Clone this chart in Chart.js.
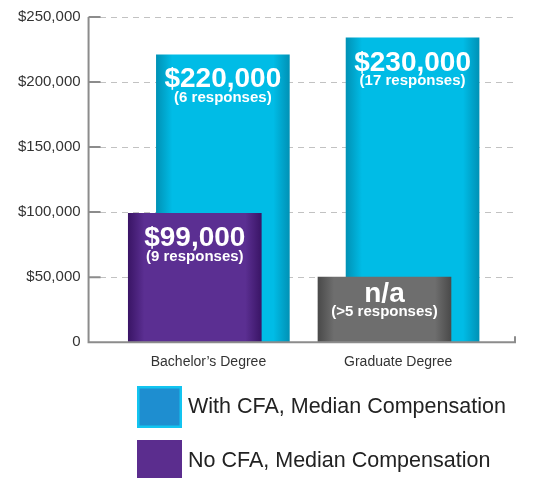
<!DOCTYPE html>
<html>
<head>
<meta charset="utf-8">
<script src="https://cdn.jsdelivr.net/npm/chart.js@4.4.0/dist/chart.umd.min.js"></script>
<style>
  html, body { margin: 0; padding: 0; background: #fff; }
  #wrap { width: 554px; height: 478px; }
</style>
</head>
<body>
<div id="wrap"><canvas id="compChart" width="554" height="478"></canvas></div>
<script>
// data
const categories = ['Bachelor’s Degree', 'Graduate Degree'];
const withCfa = [221000, 234000];
const noCfa = [99000, 50000];
const withCfaValueText = ['$220,000', '$230,000'];
const withCfaNotes = ['(6 responses)', '(17 responses)'];
const noCfaValueText = ['$99,000', 'n/a'];
const noCfaNotes = ['(9 responses)', '(>5 responses)'];
const yTickLabels = ['0', '$50,000', '$100,000', '$150,000', '$200,000', '$250,000'];
const seriesNames = ['With CFA, Median Compensation', 'No CFA, Median Compensation'];

const FONT = '"Liberation Sans", Arial, sans-serif';
const BAR_W = 133;

// dark edge / main colour per bar
const cyanShade = ['#0092b6', '#00bce6'];
const noCfaShades = [['#3a1566', '#5b2f92'], ['#4a4a4a', '#6e6e6e']];

function shade(pick) {
    return function (c) {
        const cols = pick(c.dataIndex);
        const chart = c.chart;
        const xs = chart.scales && chart.scales.x;
        if (c.type !== 'data' || !chart.chartArea || !xs || !c.parsed) return cols[1];
        const mid = xs.getPixelForValue(c.parsed.x);
        const g = chart.ctx.createLinearGradient(mid - BAR_W / 2, 0, mid + BAR_W / 2, 0);
        g.addColorStop(0, cols[0]);
        g.addColorStop(0.12, cols[1]);
        g.addColorStop(0.88, cols[1]);
        g.addColorStop(1, cols[0]);
        return g;
    };
}

// axis lines + short solid ticks inside the plot
const axisFrame = {
    id: 'axisFrame',
    afterDatasetsDraw(chart) {
        const { ctx, chartArea: a, scales: { y } } = chart;
        ctx.save();
        ctx.strokeStyle = '#8c8c8c';
        ctx.lineWidth = 2;
        ctx.beginPath();
        ctx.moveTo(a.left, a.top);
        ctx.lineTo(a.left, a.bottom);
        ctx.lineTo(a.right, a.bottom);
        ctx.lineTo(a.right, a.bottom - 6);
        y.ticks.forEach(t => {
            const py = y.getPixelForValue(t.value);
            ctx.moveTo(a.left, py);
            ctx.lineTo(a.left + 12, py);
        });
        ctx.stroke();
        ctx.restore();
    }
};

// white labels inside bars
const barText = {
    id: 'barText',
    afterDatasetsDraw(chart) {
        const ctx = chart.ctx;
        const sets = [[withCfaValueText, withCfaNotes], [noCfaValueText, noCfaNotes]];
        ctx.save();
        ctx.fillStyle = '#ffffff';
        ctx.textAlign = 'center';
        ctx.textBaseline = 'middle';
        chart.data.datasets.forEach((ds, di) => {
            chart.getDatasetMeta(di).data.forEach((bar, i) => {
                const tall = bar.base - bar.y > 100;
                const top = bar.y + (tall ? 25 : 17);
                ctx.font = 'bold 28px ' + FONT;
                ctx.fillText(sets[di][0][i], bar.x, top);
                ctx.font = 'bold 15px ' + FONT;
                ctx.fillText(sets[di][1][i], bar.x, top + 18);
            });
        });
        ctx.restore();
    }
};

// legend drawn as big boxes under the plot
const boxLegend = {
    id: 'boxLegend',
    afterDraw(chart) {
        const ctx = chart.ctx;
        const boxes = [
            { fill: '#1e8ed0', stroke: '#12c4f0' },
            { fill: '#5b2d8e', stroke: null }
        ];
        ctx.save();
        ctx.textAlign = 'left';
        ctx.textBaseline = 'middle';
        ctx.font = '21.5px ' + FONT;
        boxes.forEach((b, i) => {
            const top = 386 + i * 54;
            ctx.fillStyle = b.fill;
            ctx.fillRect(137, top, 45, 42);
            if (b.stroke) {
                ctx.strokeStyle = b.stroke;
                ctx.lineWidth = 2.5;
                ctx.strokeRect(138.25, top + 1.25, 42.5, 39.5);
            }
            ctx.fillStyle = '#222';
            ctx.fillText(seriesNames[i], 188, top + 21);
        });
        ctx.restore();
    }
};

new Chart(document.getElementById('compChart'), {
    type: 'bar',
    data: {
        datasets: [
            {
                label: seriesNames[0],
                data: withCfa.map((v, i) => ({ x: i + 0.076, y: v })),
                backgroundColor: shade(() => cyanShade),
                barThickness: BAR_W,
                grouped: false,
                order: 2
            },
            {
                label: seriesNames[1],
                data: noCfa.map((v, i) => ({ x: i - 0.072, y: v })),
                backgroundColor: shade(i => noCfaShades[i]),
                barThickness: BAR_W,
                grouped: false,
                order: 1
            }
        ]
    },
    options: {
        responsive: false,
        animation: false,
        layout: { padding: { top: 17, left: 10, right: 39, bottom: 95 } },
        plugins: {
            legend: { display: false },
            tooltip: { enabled: false }
        },
        scales: {
            x: {
                type: 'linear',
                offset: false,
                min: -0.632,
                max: 1.616,
                grid: { display: false, drawTicks: false, offset: false },
                border: { display: false },
                afterBuildTicks: s => { s.ticks = categories.map((c, i) => ({ value: i })); },
                ticks: {
                    padding: 12,
                    autoSkip: false,
                    maxRotation: 0,
                    color: '#333',
                    font: { family: FONT, size: 14 },
                    callback: v => categories[v]
                }
            },
            y: {
                min: 0,
                max: 250000,
                grid: { color: '#c2c2c2', lineWidth: 1, drawTicks: false },
                border: { display: false, dash: [6, 5] },
                ticks: {
                    stepSize: 50000,
                    padding: 8,
                    color: '#333',
                    font: { family: FONT, size: 15 },
                    callback: (v, i) => yTickLabels[i]
                }
            }
        }
    },
    plugins: [axisFrame, barText, boxLegend]
});
</script>
</body>
</html>
